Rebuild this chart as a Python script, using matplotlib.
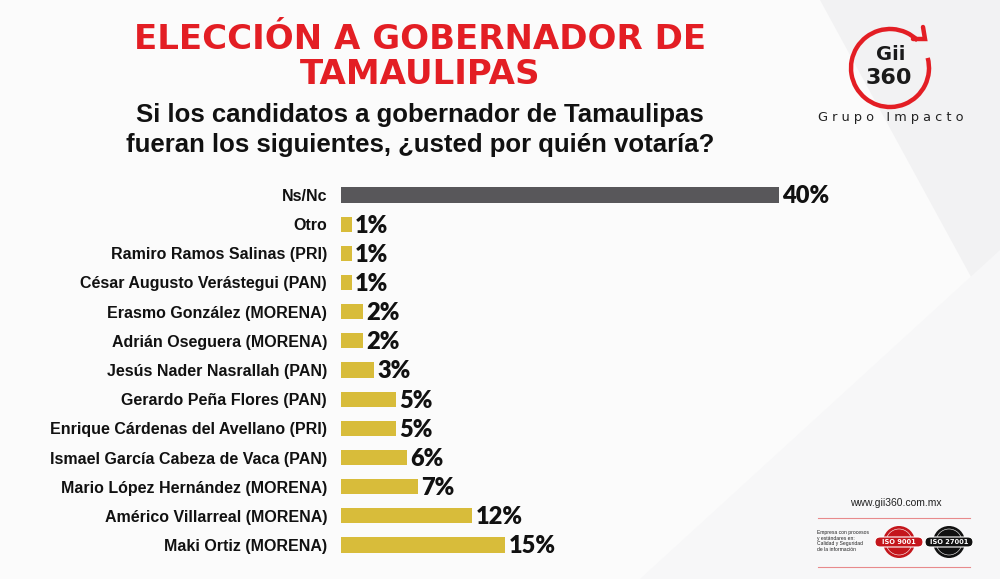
import matplotlib.pyplot as plt
from matplotlib.patches import Arc, Circle, Polygon, FancyBboxPatch

# datos
candidatos = [
    "Ns/Nc",
    "Otro",
    "Ramiro Ramos Salinas (PRI)",
    "César Augusto Verástegui (PAN)",
    "Erasmo González (MORENA)",
    "Adrián Oseguera (MORENA)",
    "Jesús Nader Nasrallah (PAN)",
    "Gerardo Peña Flores (PAN)",
    "Enrique Cárdenas del Avellano (PRI)",
    "Ismael García Cabeza de Vaca (PAN)",
    "Mario López Hernández (MORENA)",
    "Américo Villarreal (MORENA)",
    "Maki Ortiz (MORENA)",
]
porcentajes = [40, 1, 1, 1, 2, 2, 3, 5, 5, 6, 7, 12, 15]

titulo = "ELECCIÓN A GOBERNADOR DE\nTAMAULIPAS"
pregunta = "Si los candidatos a gobernador de Tamaulipas\nfueran los siguientes, ¿usted por quién votaría?"

ROJO = "#e31e24"
GRIS = "#58575a"
ORO = "#d8bc3a"


def main():
    fig = plt.figure(figsize=(10, 5.79), dpi=100)
    fig.patch.set_facecolor("#f2f2f3")

    # capa de fondo / decoracion en pixeles
    bg = fig.add_axes([0, 0, 1, 1], zorder=0)
    bg.set_xlim(0, 1000)
    bg.set_ylim(579, 0)
    bg.axis("off")
    bg.add_patch(Polygon([[0, 0], [820, 0], [1000, 330], [1000, 579], [0, 579]],
                         closed=True, color="#fbfbfb", lw=0))
    bg.add_patch(Polygon([[1210, 0], [1000, 0], [1000, 200]], closed=True,
                         color="#f0f0f1", lw=0))
    bg.add_patch(Polygon([[640, 579], [1000, 250], [1000, 579]], closed=True,
                         color="#f7f7f8", lw=0))

    # titulos
    bg.text(420, 57, titulo, ha="center", va="center", color=ROJO,
            fontsize=24.5, fontweight="heavy", linespacing=1.08,
            family="DejaVu Sans")
    bg.text(420, 130, pregunta, ha="center", va="center", color="#111111",
            fontsize=18.5, fontweight="bold", linespacing=1.28,
            family="Liberation Sans")

    # logo
    bg.add_patch(Arc((890, 68), 78, 78, theta1=-15, theta2=315, color=ROJO, lw=3.2))
    bg.plot([913, 925, 923], [39, 39, 27], color=ROJO, lw=3.2,
            solid_capstyle="round", solid_joinstyle="miter")
    bg.text(891, 55, "Gii", ha="center", va="center", fontsize=14,
            fontweight="bold", color="#1a1a1a", family="DejaVu Sans")
    bg.text(889, 78, "360", ha="center", va="center", fontsize=16,
            fontweight="bold", color="#1a1a1a", family="DejaVu Sans")
    bg.text(891, 118, "G r u p o   I m p a c t o", ha="center", va="center",
            fontsize=9.3, color="#222222", family="DejaVu Sans")

    # pie derecho
    bg.text(896, 503, "www.gii360.com.mx", ha="center", va="center",
            fontsize=7.5, color="#222222", family="Liberation Sans")
    bg.plot([818, 970], [518, 518], color="#e88a8c", lw=0.8)
    bg.plot([818, 970], [567, 567], color="#e88a8c", lw=0.8)
    bg.text(817, 541, "Empresa con procesos\ny estándares en:\nCalidad y Seguridad\nde la información",
            ha="left", va="center", fontsize=3.6, color="#222222",
            family="Liberation Sans", linespacing=1.1)
    for cx, col, txt in [(899, "#c4161c", "ISO 9001"), (949, "#111111", "ISO 27001")]:
        bg.add_patch(Circle((cx, 542), 16, color=col, lw=0))
        bg.add_patch(Circle((cx, 542), 13, fill=False, ec="white", lw=0.4))
        bg.add_patch(FancyBboxPatch((cx - 24, 537), 48, 10,
                                    boxstyle="round,pad=0,rounding_size=5",
                                    fc=col, ec="white", lw=0.8))
        bg.text(cx, 542.5, txt, ha="center", va="center", fontsize=4.8,
                fontweight="bold", color="white", family="DejaVu Sans")

    # grafica de barras
    ax = fig.add_axes([0.341, 1 - 559.6 / 579, 0.438, 379.2 / 579], zorder=2)
    ax.patch.set_alpha(0)
    y = list(range(len(candidatos)))
    colores = [GRIS] + [ORO] * (len(candidatos) - 1)
    ax.barh(y, porcentajes, height=0.52, color=colores)
    ax.set_xlim(0, 40)
    ax.set_ylim(len(candidatos) - 0.5, -0.5)
    for yi, v in zip(y, porcentajes):
        ax.text(v + 0.3, yi + 0.05, f"{v}%", ha="left", va="center", fontsize=17,
                fontweight="heavy", color="#111111", clip_on=False,
                family=["Lato", "DejaVu Sans"])
    ax.set_yticks(y)
    ax.set_yticklabels(candidatos, fontsize=11.5, fontweight="bold",
                       family="Liberation Sans", color="#111111")
    ax.tick_params(axis="y", length=0, pad=10)
    ax.set_xticks([])
    for s in ax.spines.values():
        s.set_visible(False)

    fig.savefig("out.png", dpi=100, facecolor=fig.get_facecolor())


if __name__ == "__main__":
    main()
